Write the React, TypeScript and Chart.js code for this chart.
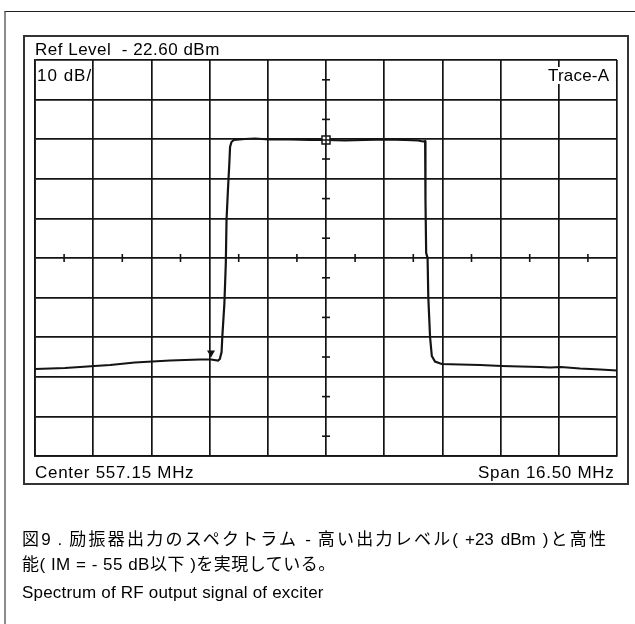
import React, { useEffect, useRef } from "react";
import { Chart, registerables } from "chart.js";

Chart.register(...registerables);

// Instrument settings
const REF_LEVEL_DBM = -22.6;
const DB_PER_DIV = 10;
const CENTER_MHZ = 557.15;
const SPAN_MHZ = 16.5;
const DIVISIONS = 10;

// Trace-A (frequency in MHz, level in dBm)
const freqMHz = [
  548.9, 549.33, 549.75, 550.18, 550.59, 551.03, 551.45, 551.73, 552.23, 552.73,
  553.15, 553.58, 553.89, 554.09, 554.14, 554.19, 554.21, 554.27, 554.31, 554.33,
  554.37, 554.41, 554.43, 554.47, 554.54, 554.85, 555.14, 555.53, 556.13, 556.69,
  557.15, 557.69, 558.25, 558.85, 559.39, 559.76, 559.9, 559.96, 559.97, 559.99,
  560.03, 560.05, 560.1, 560.15, 560.24, 560.43, 560.95, 561.52, 562.13, 562.65,
  563.22, 563.5, 563.81, 564.35, 564.92, 565.4,
];
const levelDbm = [
  -100.63, -100.5, -100.38, -100.13, -99.87, -99.62, -99.24, -98.99, -98.74, -98.48,
  -98.36, -98.23, -98.23, -98.48, -98.1, -96.34, -92.55, -83.96, -73.86, -63.0,
  -55.43, -48.61, -44.57, -43.31, -42.8, -42.55, -42.42, -42.68, -42.68, -42.8,
  -42.8, -42.93, -42.8, -42.68, -42.8, -42.93, -43.18, -43.06, -57.95, -71.34,
  -72.6, -82.45, -92.55, -97.35, -98.74, -99.37, -99.5, -99.62, -99.87, -100.0,
  -100.13, -100.25, -100.13, -100.5, -100.76, -101.01,
];

// Markers
const squareMarkerMHz = [557.15];
const squareMarkerDbm = [-42.8];
const triangleMarkerMHz = [553.89];
const triangleMarkerDbm = [-97.7];

// Texts
const refLevelText = "Ref Level  - 22.60 dBm";
const scaleText = "10 dB/";
const traceText = "Trace-A";
const centerText = "Center 557.15 MHz";
const spanText = "Span 16.50 MHz";
const captionJa = [
  "図9 . 励振器出力のスペクトラム - 高い出力レベル( +23 dBm )と高性",
  "能( IM = - 55 dB以下 )を実現している。",
];
const captionEn = "Spectrum of RF output signal of exciter";

const FREQ_MIN = CENTER_MHZ - SPAN_MHZ / 2;
const FREQ_MAX = CENTER_MHZ + SPAN_MHZ / 2;
const LEVEL_MAX = REF_LEVEL_DBM;
const LEVEL_MIN = REF_LEVEL_DBM - DB_PER_DIV * DIVISIONS;

const INK = "#141414";
const LATIN = '"Liberation Sans", Arial, Helvetica, sans-serif';
const JA = '"Liberation Sans", Arial, "Noto Sans CJK JP", sans-serif';

const decorPlugin = {
  id: "decor",
  afterDatasetsDraw(chart: any) {
    const { ctx, scales } = chart;
    const xs = scales.x;
    const ys = scales.y;
    ctx.save();
    ctx.strokeStyle = INK;
    ctx.fillStyle = INK;
    ctx.lineWidth = 1.6;
    const cx = xs.getPixelForValue(CENTER_MHZ);
    const cy = ys.getPixelForValue(REF_LEVEL_DBM - (DB_PER_DIV * DIVISIONS) / 2);
    for (let k = 0; k < DIVISIONS; k++) {
      const y = ys.getPixelForValue(REF_LEVEL_DBM - DB_PER_DIV * (k + 0.5));
      ctx.beginPath();
      ctx.moveTo(cx - 4, y);
      ctx.lineTo(cx + 4, y);
      ctx.stroke();
    }
    const step = SPAN_MHZ / DIVISIONS;
    for (let k = 0; k < DIVISIONS; k++) {
      const x = xs.getPixelForValue(FREQ_MIN + step * (k + 0.5));
      ctx.beginPath();
      ctx.moveTo(x, cy - 4);
      ctx.lineTo(x, cy + 4);
      ctx.stroke();
    }
    ctx.lineWidth = 1.5;
    squareMarkerMHz.forEach((f, i) => {
      const x = xs.getPixelForValue(f);
      const y = ys.getPixelForValue(squareMarkerDbm[i]);
      ctx.fillStyle = "#fff";
      ctx.fillRect(x - 4, y - 4, 8, 8);
      ctx.strokeRect(x - 4, y - 4, 8, 8);
      ctx.beginPath();
      ctx.moveTo(x - 4, y);
      ctx.lineTo(x + 4, y);
      ctx.moveTo(x, y - 4);
      ctx.lineTo(x, y + 4);
      ctx.stroke();
    });
    ctx.fillStyle = INK;
    triangleMarkerMHz.forEach((f, i) => {
      const x = xs.getPixelForValue(f);
      const y = ys.getPixelForValue(triangleMarkerDbm[i]);
      ctx.beginPath();
      ctx.moveTo(x, y);
      ctx.lineTo(x - 4, y - 7);
      ctx.lineTo(x + 4, y - 7);
      ctx.closePath();
      ctx.fill();
    });
    ctx.restore();
  },
};

function gridTicks(min: number, max: number) {
  return (scale: any) => {
    const t = [];
    for (let i = 0; i <= DIVISIONS; i++) t.push({ value: min + ((max - min) * i) / DIVISIONS });
    scale.ticks = t;
  };
}

const abs = (left: number, top: number, extra: any = {}) => ({
  position: "absolute" as const,
  left,
  top,
  whiteSpace: "pre" as const,
  margin: 0,
  ...extra,
});

export default function App() {
  const ref = useRef<HTMLCanvasElement>(null);
  useEffect(() => {
    if (!ref.current) return;
    const chart = new Chart(ref.current, {
      type: "line",
      data: {
        datasets: [
          {
            data: freqMHz.map((f, i) => ({ x: f, y: levelDbm[i] })),
            borderColor: INK,
            borderWidth: 2.2,
            pointRadius: 0,
            tension: 0,
            fill: false,
          },
        ],
      },
      options: {
        animation: false,
        responsive: false,
        devicePixelRatio: 1,
        layout: { padding: { left: 35, top: 60, right: 18, bottom: 168 } },
        plugins: { legend: { display: false }, tooltip: { enabled: false } },
        scales: {
          x: {
            type: "linear",
            min: FREQ_MIN,
            max: FREQ_MAX,
            afterBuildTicks: gridTicks(FREQ_MIN, FREQ_MAX),
            ticks: { display: false },
            grid: { color: INK, lineWidth: 1.7, drawTicks: false },
            border: { display: true, color: INK, width: 1.7 },
          },
          y: {
            type: "linear",
            min: LEVEL_MIN,
            max: LEVEL_MAX,
            afterBuildTicks: gridTicks(LEVEL_MIN, LEVEL_MAX),
            ticks: { display: false },
            grid: { color: INK, lineWidth: 1.7, drawTicks: false },
            border: { display: true, color: INK, width: 1.7 },
          },
        },
      },
      plugins: [decorPlugin],
    });
    return () => chart.destroy();
  }, []);

  const label = { fontFamily: LATIN, fontSize: 17, lineHeight: "17px", color: "#000", letterSpacing: "0.5px" };
  const cap = { fontFamily: JA, fontSize: 17, lineHeight: "20px", color: "#000" };

  return (
    <div style={{ position: "fixed", left: 0, top: 0, width: 635, height: 624, overflow: "hidden", background: "#fff" }}>
      <div style={{ position: "absolute", left: 4, top: 11, width: 700, height: 700, borderLeft: "2px solid #8c8c8c", borderTop: "1px solid #222" }} />
      <div style={{ position: "absolute", left: 23, top: 35, width: 606, height: 450, border: "2px solid #333", boxSizing: "border-box" }} />
      <canvas ref={ref} width={635} height={624} style={{ position: "absolute", left: 0, top: 0, width: 635, height: 624 }} />
      <div style={abs(35, 41, label)}>{refLevelText}</div>
      <div style={abs(37, 66.5, { ...label, letterSpacing: "1px" })}>{scaleText}</div>
      <div style={abs(548, 66.5, { ...label, background: "#fff", letterSpacing: "0.2px" })}>{traceText}</div>
      <div style={abs(35, 463.5, { ...label, letterSpacing: "0.7px" })}>{centerText}</div>
      <div style={abs(478, 463.5, { ...label, letterSpacing: "0.7px" })}>{spanText}</div>
      <div style={abs(22, 530, { ...cap, width: 584, whiteSpace: "nowrap", textAlign: "justify", textAlignLast: "justify" })}>{captionJa[0]}</div>
      <div style={abs(22, 555, { ...cap, letterSpacing: "0.5px" })}>{captionJa[1]}</div>
      <div style={abs(22, 583, { ...cap, letterSpacing: "0.2px" })}>{captionEn}</div>
    </div>
  );
}
